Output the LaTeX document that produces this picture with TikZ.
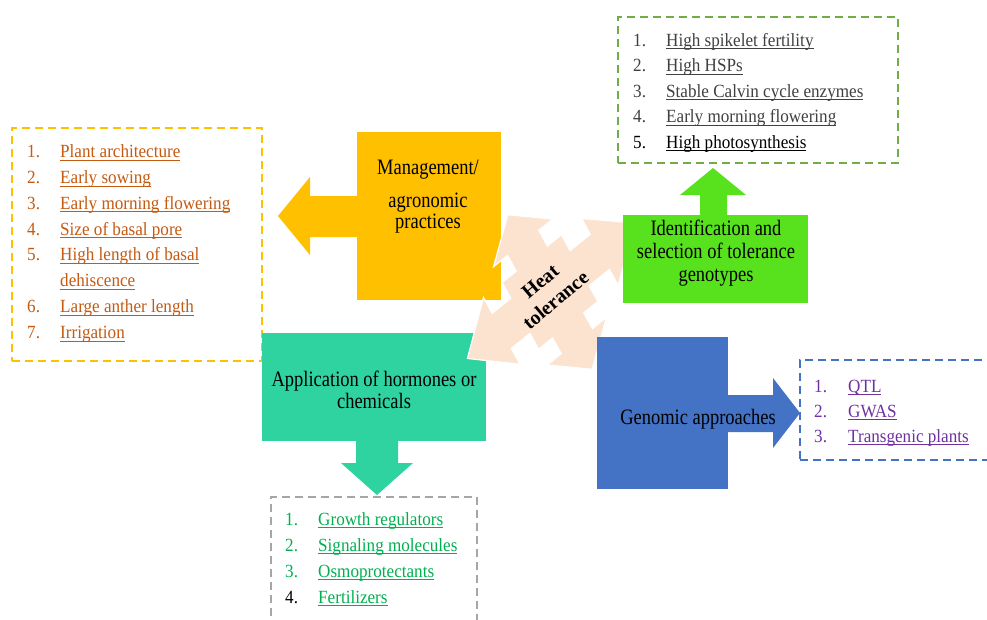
\documentclass[tikz,border=0pt]{standalone}
\usepackage{fontspec}
\setmainfont{Liberation Serif}
\newfontfamily\listfont{Liberation Serif}[FakeStretch=0.92]
\newfontfamily\lblfont{Liberation Serif}[FakeStretch=0.84]
\newcommand{\myul}[1]{\leavevmode\setbox0=\hbox{#1}\rlap{\copy0}\rule[-3.2pt]{\wd0}{0.9pt}}
\usetikzlibrary{calc}
\definecolor{mgc}{HTML}{C55A11}
\definecolor{orangeC}{HTML}{FFC000}
\definecolor{greenC}{HTML}{58E21E}
\definecolor{tealC}{HTML}{2ED39F}
\definecolor{blueC}{HTML}{4472C4}
\definecolor{peachC}{HTML}{FBE3D0}
\definecolor{idc}{HTML}{404040}
\definecolor{apc}{HTML}{00B050}
\definecolor{gnc}{HTML}{7030A0}
\definecolor{grayD}{HTML}{A6A6A6}
\definecolor{greenD}{HTML}{70AD47}
\tikzset{
  box/.style={rectangle, inner sep=0pt, outer sep=0pt},
  lbl/.style={anchor=base, inner sep=0pt, text=black, font=\lblfont\fontsize{22}{24}\selectfont},
  num/.style={anchor=base west, inner sep=0pt, font=\listfont\fontsize{18.6}{20}\selectfont},
  itm/.style={anchor=base west, inner sep=0pt, font=\listfont\fontsize{18.6}{20}\selectfont},
  dashbox/.style={dash pattern=on 8pt off 5pt, line width=2pt},
}
\begin{document}
\begin{tikzpicture}[x=1pt,y=-1pt]
\useasboundingbox (0,0) rectangle (987,619);
\fill[white] (0,0) rectangle (987,619);

% dashed list frames
\node[box, draw=orangeC, dashbox, minimum width=250pt, minimum height=233pt] (mlist) at (137,244.5) {};
\node[box, draw=greenD, dashbox, minimum width=280pt, minimum height=146pt] (ilist) at (758,90) {};
\node[box, draw=grayD, dashbox, line width=1.6pt, minimum width=206pt, minimum height=140pt] (alist) at (374,567) {};
\node[box, draw=blueC, dashbox, minimum width=210pt, minimum height=100pt] (glist) at (905,410) {};

% management box + left arrow
\node[box, fill=orangeC, minimum width=144pt, minimum height=168pt] (mgmt) at (429,216) {};
\fill[orangeC] ($(mgmt.west)+(3,-20)$) -- (310,196) -- (310,177) -- (278,216) -- (310,255)
  -- (310,237) -- ($(mgmt.west)+(3,21)$) -- cycle;

% application box + down arrow
\node[box, fill=tealC, minimum width=224pt, minimum height=108pt] (appl) at (374,387) {};
\fill[tealC] ($(appl.south)+(-18,-3)$) -- (356,463) -- (341,463) -- (377,495) -- (413,463)
  -- (398,463) -- ($(appl.south)+(24,-3)$) -- cycle;

% heat tolerance quad arrow (square centre, short shafts, broad heads)
\begin{scope}[shift={(550,292)}, x={(0.779pt,0.627pt)}, y={(-0.479pt,0.878pt)}]
\filldraw[fill=peachC, draw=white, line width=1.2pt, line join=miter]
  % arm A (+u)
  (110,0) -- (64,38) -- (64,20) -- (38,20) -- (38,38)
  % arm B (+v)
  -- (20,38) -- (20,56) -- (38,56) -- (0,88) -- (-38,56) -- (-20,56) -- (-20,38) -- (-38,38)
  % arm C (-u)
  -- (-38,20) -- (-62,20) -- (-62,38) -- (-106,0) -- (-62,-38) -- (-62,-20) -- (-38,-20) -- (-38,-38)
  % arm D (-v)
  -- (-20,-38) -- (-20,-56) -- (-38,-56) -- (0,-88) -- (38,-56) -- (20,-56) -- (20,-38) -- (38,-38)
  -- (38,-20) -- (64,-20) -- (64,-38) -- cycle;
\end{scope}
\node[rotate=40, align=center, inner sep=0pt, font=\fontsize{20}{24}\selectfont\bfseries] (heat) at (548,291) {Heat\\tolerance};

% identification box + up arrow
\node[box, fill=greenC, minimum width=185pt, minimum height=88pt] (ident) at (715.5,259) {};
\fill[greenC] ($(ident.north)+(-15.5,3)$) -- (700,195) -- (680,195) -- (713,168) -- (746,195)
  -- (727,195) -- ($(ident.north)+(11.5,3)$) -- cycle;

% genomic box + right arrow
\node[box, fill=blueC, minimum width=131pt, minimum height=152pt] (genom) at (662.5,413) {};
\fill[blueC] ($(genom.east)+(-3,-18)$) -- (773,395) -- (773,378) -- (800,413) -- (773,448)
  -- (773,432) -- ($(genom.east)+(-3,19)$) -- cycle;

% box labels
\node[lbl] (mg1) at (428,174) {Management/};
\node[lbl] (mg2) at (428,207) {agronomic};
\node[lbl] (mg3) at (428,228) {practices};
\node[lbl] (id1) at (716,235) {Identification and};
\node[lbl] (id2) at (716,258) {selection of tolerance};
\node[lbl] (id3) at (716,281) {genotypes};
\node[lbl] (ap1) at (374,386) {Application of hormones or};
\node[lbl] (ap2) at (374,408) {chemicals};
\node[lbl] (gn1) at (698,424) {Genomic approaches};

% management list
\begin{scope}[every node/.append style={text=mgc}]
\node[num] (mn1) at (27,157.3) {1.};  \node[itm] (mt1) at (60,157.3) {\myul{Plant architecture}};
\node[num] (mn2) at (27,183.2) {2.};  \node[itm] (mt2) at (60,183.2) {\myul{Early sowing}};
\node[num] (mn3) at (27,209.1) {3.};  \node[itm] (mt3) at (60,209.1) {\myul{Early morning flowering}};
\node[num] (mn4) at (27,235.0) {4.};  \node[itm] (mt4) at (60,235.0) {\myul{Size of basal pore}};
\node[num] (mn5) at (27,260.9) {5.};  \node[itm] (mt5) at (60,260.9) {\myul{High length of basal}};
\node[itm] (mt5b) at (60,286.8) {\myul{dehiscence}};
\node[num] (mn6) at (27,312.7) {6.};  \node[itm] (mt6) at (60,312.7) {\myul{Large anther length}};
\node[num] (mn7) at (27,338.6) {7.};  \node[itm] (mt7) at (60,338.6) {\myul{Irrigation}};
\end{scope}

% identification list
\begin{scope}[every node/.append style={text=idc}]
\node[num] (in1) at (633,46) {1.};    \node[itm] (it1) at (666,46) {\myul{High spikelet fertility}};
\node[num] (in2) at (633,71.5) {2.};  \node[itm] (it2) at (666,71.5) {\myul{High HSPs}};
\node[num] (in3) at (633,97) {3.};    \node[itm] (it3) at (666,97) {\myul{Stable Calvin cycle enzymes}};
\node[num] (in4) at (633,122.5) {4.}; \node[itm] (it4) at (666,122.5) {\myul{Early morning flowering}};
\node[num, text=black] (in5) at (633,148) {5.}; \node[itm, text=black] (it5) at (666,148) {\myul{High photosynthesis}};
\end{scope}

% application list
\begin{scope}[every node/.append style={text=apc}]
\node[num] (an1) at (285,525) {1.}; \node[itm] (at1) at (318,525) {\myul{Growth regulators}};
\node[num] (an2) at (285,551) {2.}; \node[itm] (at2) at (318,551) {\myul{Signaling molecules}};
\node[num] (an3) at (285,577) {3.}; \node[itm] (at3) at (318,577) {\myul{Osmoprotectants}};
\node[num, text=black] (an4) at (285,603) {4.}; \node[itm] (at4) at (318,603) {\myul{Fertilizers}};
\end{scope}

% genomic list
\begin{scope}[every node/.append style={text=gnc}]
\node[num] (gn1n) at (814,392) {1.}; \node[itm] (gt1) at (848,392) {\myul{QTL}};
\node[num] (gn2n) at (814,417) {2.}; \node[itm] (gt2) at (848,417) {\myul{GWAS}};
\node[num] (gn3n) at (814,442) {3.}; \node[itm] (gt3) at (848,442) {\myul{Transgenic plants}};
\end{scope}
\end{tikzpicture}
\end{document}
